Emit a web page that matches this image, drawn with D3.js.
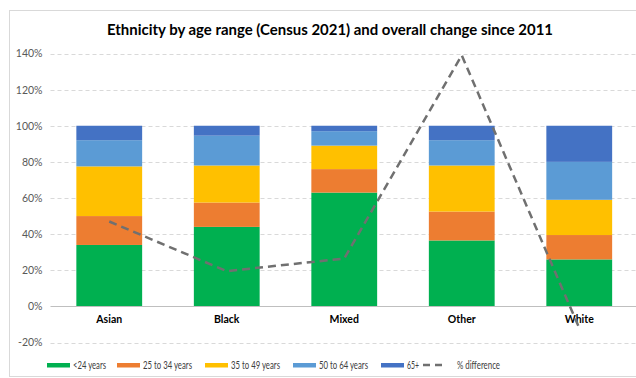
<!DOCTYPE html>
<html>
<head>
<meta charset="utf-8">
<script src="https://cdn.jsdelivr.net/npm/d3@7"></script>
<style>
  body { margin: 0; background: #fff; }
  svg { display: block; font-family: Lato, "Liberation Sans", sans-serif; }
</style>
</head>
<body>
<svg id="chart" width="636" height="378"></svg>
<script>
const categories = ['Asian', 'Black', 'Mixed', 'Other', 'White']
const ageGroups = ['<24 years', '25 to 34 years', '35 to 49 years', '50 to 64 years', '65+']
const under24 = [34, 44, 63, 36.5, 26]
const age25to34 = [16, 13.5, 13, 16, 13.5]
const age35to49 = [27.5, 20.5, 13, 25.5, 19.5]
const age50to64 = [14.5, 16.5, 8, 14, 21]
const age65plus = [8, 5.5, 3, 8, 20]
const pctDifference = [47, 19.5, 26.5, 139, -12]
const yTicks = [-20, 0, 20, 40, 60, 80, 100, 120, 140]
const colors = ['#00B050', '#ED7D31', '#FFC000', '#5B9BD5', '#4472C4']

const svg = d3.select('#chart')

// outer frame
svg.append('rect')
    .attr('x', 9.5).attr('y', 10.5)
    .attr('width', 640).attr('height', 366)
    .attr('fill', '#fff')
    .attr('stroke', '#d9d9d9')

svg.append('text')
    .attr('x', 330).attr('y', 35)
    .attr('text-anchor', 'middle')
    .attr('font-size', 15.5)
    .attr('font-weight', 700)
    .attr('fill', '#000')
    .attr('textLength', 446)
    .attr('lengthAdjust', 'spacingAndGlyphs')
    .text('Ethnicity by age range (Census 2021) and overall change since 2011')

const left = 50.5
const right = 638
const y = d3.scaleLinear().domain([-20, 140]).range([342.5, 53.5])
const x = d3.scaleBand().domain(categories).range([left, right]).paddingInner(0.44).paddingOuter(0.22)

// gridlines
svg.append('g')
    .selectAll('line')
    .data(yTicks.filter(d => d !== 0))
    .enter()
    .append('line')
    .attr('x1', left).attr('x2', 636)
    .attr('y1', d => Math.round(y(d)) + 0.5)
    .attr('y2', d => Math.round(y(d)) + 0.5)
    .attr('stroke', '#d9d9d9')
    .attr('stroke-dasharray', '4,3')

const yAxis = d3.axisLeft(y).tickValues(yTicks).tickFormat(d => d + '%').tickSize(0).tickPadding(8)
svg.append('g')
    .attr('transform', `translate(${left},0)`)
    .call(yAxis)
    .call(g => g.select('.domain').remove())
    .selectAll('text')
    .attr('font-size', 10.5)
    .attr('fill', '#595959')
    .attr('font-family', 'Lato, sans-serif')

// stacked bars
const rows = categories.map((c, i) => ({
    category: c,
    [ageGroups[0]]: under24[i],
    [ageGroups[1]]: age25to34[i],
    [ageGroups[2]]: age35to49[i],
    [ageGroups[3]]: age50to64[i],
    [ageGroups[4]]: age65plus[i]
}))
const stacked = d3.stack().keys(ageGroups)(rows)

svg.append('g')
    .selectAll('g')
    .data(stacked)
    .enter()
    .append('g')
    .attr('fill', (d, i) => colors[i])
    .selectAll('rect')
    .data(d => d)
    .enter()
    .append('rect')
    .attr('x', d => x(d.data.category))
    .attr('width', x.bandwidth())
    .attr('y', d => y(d[1]))
    .attr('height', d => y(d[0]) - y(d[1]))

// zero line
svg.append('line')
    .attr('x1', left).attr('x2', 636)
    .attr('y1', Math.round(y(0)) + 0.5).attr('y2', Math.round(y(0)) + 0.5)
    .attr('stroke', '#bfbfbf')

// category labels
svg.append('g')
    .selectAll('text')
    .data(categories)
    .enter()
    .append('text')
    .attr('x', d => x(d) + x.bandwidth() / 2)
    .attr('y', y(0) + 17)
    .attr('text-anchor', 'middle')
    .attr('font-size', 10.5)
    .attr('font-weight', 700)
    .attr('fill', '#000')
    .text(d => d)

// % difference line
const line = d3.line()
    .x((d, i) => x(categories[i]) + x.bandwidth() / 2)
    .y(d => y(d))

svg.append('path')
    .datum(pctDifference)
    .attr('d', line)
    .attr('fill', 'none')
    .attr('stroke', '#707070')
    .attr('stroke-width', 2.5)
    .attr('stroke-dasharray', '8,5')

// legend
const legendX = [47, 117, 205, 293, 381]
const legendW = [33, 49, 49, 49, 12]
const legend = svg.append('g')
ageGroups.forEach((name, i) => {
    legend.append('rect')
        .attr('x', legendX[i]).attr('y', 363)
        .attr('width', 23).attr('height', 4.5)
        .attr('fill', colors[i])
    legend.append('text')
        .attr('x', legendX[i] + 26).attr('y', 368.5)
        .attr('font-size', 11)
        .attr('fill', '#404040')
        .attr('textLength', legendW[i])
        .attr('lengthAdjust', 'spacingAndGlyphs')
        .text(name)
})
legend.append('line')
    .attr('x1', 423).attr('x2', 446)
    .attr('y1', 365).attr('y2', 365)
    .attr('stroke', '#707070')
    .attr('stroke-width', 2.5)
    .attr('stroke-dasharray', '7,5')
legend.append('text')
    .attr('x', 457).attr('y', 368.5)
    .attr('font-size', 11)
    .attr('fill', '#404040')
    .attr('textLength', 43)
    .attr('lengthAdjust', 'spacingAndGlyphs')
    .text('% difference')
</script>
</body>
</html>
